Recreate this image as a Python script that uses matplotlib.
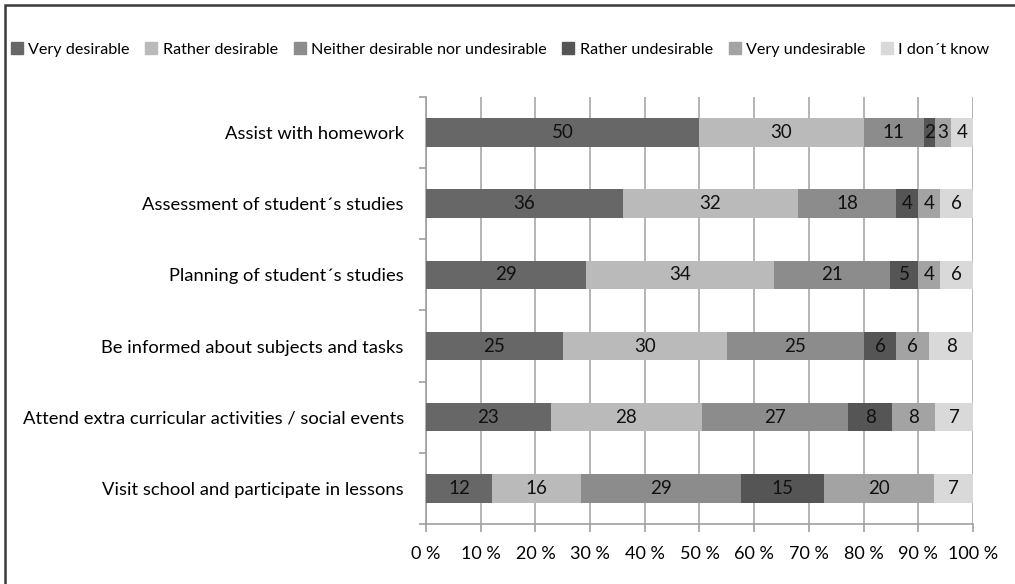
import numpy as np
import matplotlib.pyplot as plt
from matplotlib.patches import Rectangle
from matplotlib.lines import Line2D

plt.rcParams["font.family"] = ["Lato", "DejaVu Sans"]

categories = [
    "Assist with homework",
    "Assessment of student\u00b4s studies",
    "Planning of student\u00b4s studies",
    "Be informed about subjects and tasks",
    "Attend extra curricular activities / social events",
    "Visit school and participate in lessons",
]
series = [
    "Very desirable",
    "Rather desirable",
    "Neither desirable nor undesirable",
    "Rather undesirable",
    "Very undesirable",
    "I don\u00b4t know",
]
very_desirable = [50, 36, 29, 25, 23, 12]
rather_desirable = [30, 32, 34, 30, 28, 16]
neither = [11, 18, 21, 25, 27, 29]
rather_undesirable = [2, 4, 5, 6, 8, 15]
very_undesirable = [3, 4, 4, 6, 8, 20]
dont_know = [4, 6, 6, 8, 7, 7]

colors = ["#676767", "#bababa", "#8c8c8c", "#555555", "#a3a3a3", "#d9d9d9"]

values = np.array([very_desirable, rather_desirable, neither,
                   rather_undesirable, very_undesirable, dont_know], dtype=float)
totals = values.sum(axis=0)
shares = values / totals * 100

fig = plt.figure(figsize=(10.15, 5.84), dpi=100)
ax = fig.add_axes([0.4197, 0.1027, 0.5389, 0.7313])

y = np.arange(len(categories))
left = np.zeros(len(categories))
for i, name in enumerate(series):
    ax.barh(y, shares[i], left=left, height=0.4, color=colors[i], label=name, zorder=3)
    for j in range(len(categories)):
        ax.text(left[j] + shares[i, j] / 2, y[j], f"{int(values[i, j])}",
                ha="center", va="center", fontsize=13.5, color="#111111", zorder=4)
    left += shares[i]

ax.set_xlim(0, 100)
ax.set_ylim(len(categories) - 0.5, -0.5)
ax.set_xticks(np.arange(0, 101, 10))
ax.set_xticklabels([f"{v} %" for v in range(0, 101, 10)], fontsize=13)
ax.set_yticks(y)
ax.set_yticklabels(categories, fontsize=13.2)
ax.set_yticks(np.arange(-0.5, len(categories), 1), minor=True)
ax.tick_params(axis="y", which="major", length=0, pad=16)
ax.tick_params(axis="y", which="minor", length=5, color="#a0a0a0", width=1.2)
ax.tick_params(axis="x", length=6, color="#a0a0a0", width=1.2, pad=10)
ax.grid(axis="x", color="#a8a8a8", lw=1.2, zorder=0)
for s in ["top", "right"]:
    ax.spines[s].set_visible(False)
for s in ["left", "bottom"]:
    ax.spines[s].set_color("#a0a0a0")
    ax.spines[s].set_linewidth(1.2)

handles = [Line2D([], [], marker="s", ls="", markersize=8, color=c) for c in colors]
fig.legend(handles, series, loc="center left", bbox_to_anchor=(0.0, 0.915),
           ncol=6, frameon=False, fontsize=11.6, handletextpad=0.25,
           columnspacing=0.9, handlelength=0.9, borderaxespad=0.2)

fig.patches.append(Rectangle((5 / 1015, -0.1), 1.2, 1 - 5 / 584 + 0.1,
                             transform=fig.transFigure, fill=False,
                             edgecolor="#3a3a3a", lw=1.8))

fig.savefig("out.png", dpi=100)
